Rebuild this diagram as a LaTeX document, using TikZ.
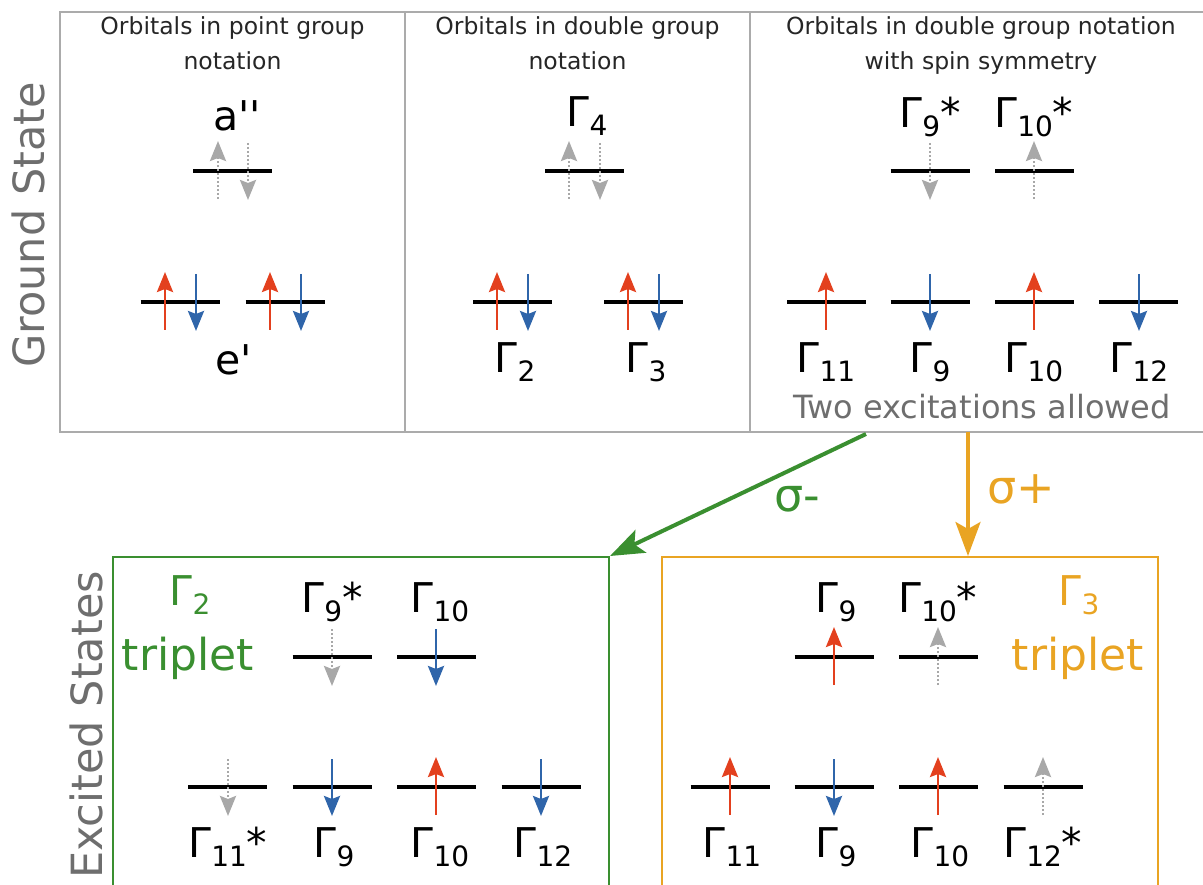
\documentclass[tikz,border=0pt]{standalone}
\usepackage{fontspec}
\setmainfont{DejaVu Sans}
\usetikzlibrary{arrows.meta}

\definecolor{spinred}{HTML}{E3401E}
\definecolor{spinblue}{HTML}{2F65AA}
\definecolor{spingray}{HTML}{A8A8A8}
\definecolor{boxgray}{HTML}{ABABAB}
\definecolor{sigmagreen}{HTML}{3A8F30}
\definecolor{sigmaorange}{HTML}{E9A423}
\definecolor{textgray}{HTML}{6E6E6E}

% Gamma with a lowered subscript
\newcommand\gsub[1]{Γ\raisebox{-9pt}{\fontsize{28}{28}\selectfont#1}}
% one orbital level, and the spins on it
\newcommand\orblevel[2]{\draw[level] (#1-39.5,#2) -- (#1+39.5,#2);}
\newcommand\upspin[3]{\draw[spinarrow,#3] (#1,#2+28) -- (#1,#2-30);}
\newcommand\downspin[3]{\draw[spinarrow,#3] (#1,#2-28) -- (#1,#2+29);}

\tikzset{
  panel/.style={draw=boxgray, line width=2pt, inner sep=0pt, minimum height=420pt},
  statebox/.style={line width=2pt, inner sep=0pt, minimum width=496pt, minimum height=343pt},
  level/.style={line width=3.2pt},
  spinarrow/.style={line width=2.7pt, -{Stealth[length=20pt,width=16pt,inset=3pt]}},
  empty/.style={spingray, dash pattern=on 2pt off 2pt},
  header/.style={font=\fontsize{23.5}{28}\selectfont, text=black!85, anchor=base, inner sep=0pt},
  lbl/.style={font=\fontsize{41}{45}\selectfont, anchor=base, inner sep=0pt},
  side/.style={font=\fontsize{43}{47}\selectfont, text=textgray, rotate=90, anchor=base, inner sep=0pt},
  sigmaarrow/.style={line width=4pt, -{Stealth[length=34pt,width=25pt,inset=7pt]}},
}

\begin{document}
\begin{tikzpicture}[x=1pt,y=-1pt]
  \path[use as bounding box] (0,0) rectangle (1203,885);

  % ground state panels
  \node[panel, minimum width=345pt] (pointgrp) at (232.5,222) {};
  \node[panel, minimum width=345pt] (doublegrp) at (577.5,222) {};
  \node[panel, minimum width=454pt] (spingrp) at (977,222) {};
  \node[side] (ground) at (45,225) {Ground State};

  \node[header] (hpa) at (232.5,35) {Orbitals in point group};
  \node[header] (hpb) at (232.5,70) {notation};
  \node[header] (hda) at (577.5,35) {Orbitals in double group};
  \node[header] (hdb) at (577.5,70) {notation};
  \node[header] (hsa) at (981,35) {Orbitals in double group notation};
  \node[header] (hsb) at (981,70) {with spin symmetry};

  % point group
  \orblevel{232.5}{171}
  \upspin{218}{171}{empty}
  \downspin{248}{171}{empty}
  \foreach \c in {180,285} {\orblevel{\c}{302}}
  \foreach \c in {165,270} {\upspin{\c}{302}{spinred}}
  \foreach \c in {196,301} {\downspin{\c}{302}{spinblue}}
  \node[lbl] (app) at (237,131) {a\textquotesingle\textquotesingle};
  \node[lbl] (ep) at (234,375) {e\textquotesingle};

  % double group
  \orblevel{584.5}{171}
  \upspin{569}{171}{empty}
  \downspin{600}{171}{empty}
  \foreach \c in {512.5,643.5} {\orblevel{\c}{302}}
  \foreach \c in {497,628} {\upspin{\c}{302}{spinred}}
  \foreach \c in {528,659} {\downspin{\c}{302}{spinblue}}
  \node[lbl] (dg4) at (587,127) {\gsub{4}};
  \node[lbl] (dg2) at (515,373) {\gsub{2}};
  \node[lbl] (dg3) at (646,373) {\gsub{3}};

  % double group with spin
  \foreach \c in {930,1034.5} {\orblevel{\c}{171}}
  \downspin{930}{171}{empty}
  \upspin{1034}{171}{empty}
  \foreach \c in {826.5,930,1034.5,1138.5} {\orblevel{\c}{302}}
  \upspin{826}{302}{spinred}
  \downspin{930}{302}{spinblue}
  \upspin{1034}{302}{spinred}
  \downspin{1139}{302}{spinblue}
  \node[lbl] (sg9s) at (930,128) {\gsub{9}*};
  \node[lbl] (sg10s) at (1034,128) {\gsub{10}*};
  \node[lbl] (sg11) at (826,373) {\gsub{11}};
  \node[lbl] (sg9) at (930,373) {\gsub{9}};
  \node[lbl] (sg10) at (1034,373) {\gsub{10}};
  \node[lbl] (sg12) at (1139,373) {\gsub{12}};
  \node[font=\fontsize{32}{36}\selectfont, text=textgray, anchor=base, inner sep=0pt] (allowed) at (982,419) {Two excitations allowed};

  % excited states
  \node[statebox, draw=sigmagreen] (tripa) at (361,728.5) {};
  \node[statebox, draw=sigmaorange] (tripb) at (909.5,728.5) {};
  \node[side] (excited) at (102,725) {Excited States};

  \coordinate (sigmam) at (866,434);
  \coordinate (sigmap) at (968,432);
  \draw[sigmaarrow, sigmagreen] (sigmam) -- (tripa.north east);
  \draw[sigmaarrow, sigmaorange, line width=3.5pt] (sigmap) -- (sigmap |- tripb.north);
  \node[font=\fontsize{46}{50}\selectfont, text=sigmagreen, anchor=base west, inner sep=0pt] (sigmamlbl) at (774,511) {σ-};
  \node[font=\fontsize{46}{50}\selectfont, text=sigmaorange, anchor=base west, inner sep=0pt] (sigmaplbl) at (987,503) {σ+};

  % Gamma_2 triplet
  \node[lbl, text=sigmagreen] (tag2) at (190,605) {\gsub{2}};
  \node[font=\fontsize{44}{48}\selectfont, text=sigmagreen, anchor=base, inner sep=0pt] (trpa) at (188,670) {triplet};
  \foreach \c in {332,436.5} {\orblevel{\c}{657}}
  \downspin{332}{657}{empty}
  \downspin{436}{657}{spinblue}
  \foreach \c in {227.5,332,436.5,541} {\orblevel{\c}{787}}
  \downspin{228}{787}{empty}
  \downspin{332}{787}{spinblue}
  \upspin{436}{787}{spinred}
  \downspin{541}{787}{spinblue}
  \node[lbl] (ag9s) at (332,612) {\gsub{9}*};
  \node[lbl] (ag10) at (440,612) {\gsub{10}};
  \node[lbl] (ag11s) at (228,857) {\gsub{11}*};
  \node[lbl] (ag9) at (334,857) {\gsub{9}};
  \node[lbl] (ag10b) at (440,857) {\gsub{10}};
  \node[lbl] (ag12) at (543,857) {\gsub{12}};

  % Gamma_3 triplet
  \node[lbl, text=sigmaorange] (tag3) at (1079,605) {\gsub{3}};
  \node[font=\fontsize{44}{48}\selectfont, text=sigmaorange, anchor=base, inner sep=0pt] (trpb) at (1078,670) {triplet};
  \foreach \c in {834,938.5} {\orblevel{\c}{657}}
  \upspin{834}{657}{spinred}
  \upspin{938}{657}{empty}
  \foreach \c in {730,834,938.5,1043} {\orblevel{\c}{787}}
  \upspin{730}{787}{spinred}
  \downspin{834}{787}{spinblue}
  \upspin{938}{787}{spinred}
  \upspin{1043}{787}{empty}
  \node[lbl] (bg9) at (836,612) {\gsub{9}};
  \node[lbl] (bg10s) at (938,612) {\gsub{10}*};
  \node[lbl] (bg11) at (732,857) {\gsub{11}};
  \node[lbl] (bg9b) at (836,857) {\gsub{9}};
  \node[lbl] (bg10) at (940,857) {\gsub{10}};
  \node[lbl] (bg12s) at (1043,857) {\gsub{12}*};
\end{tikzpicture}
\end{document}
